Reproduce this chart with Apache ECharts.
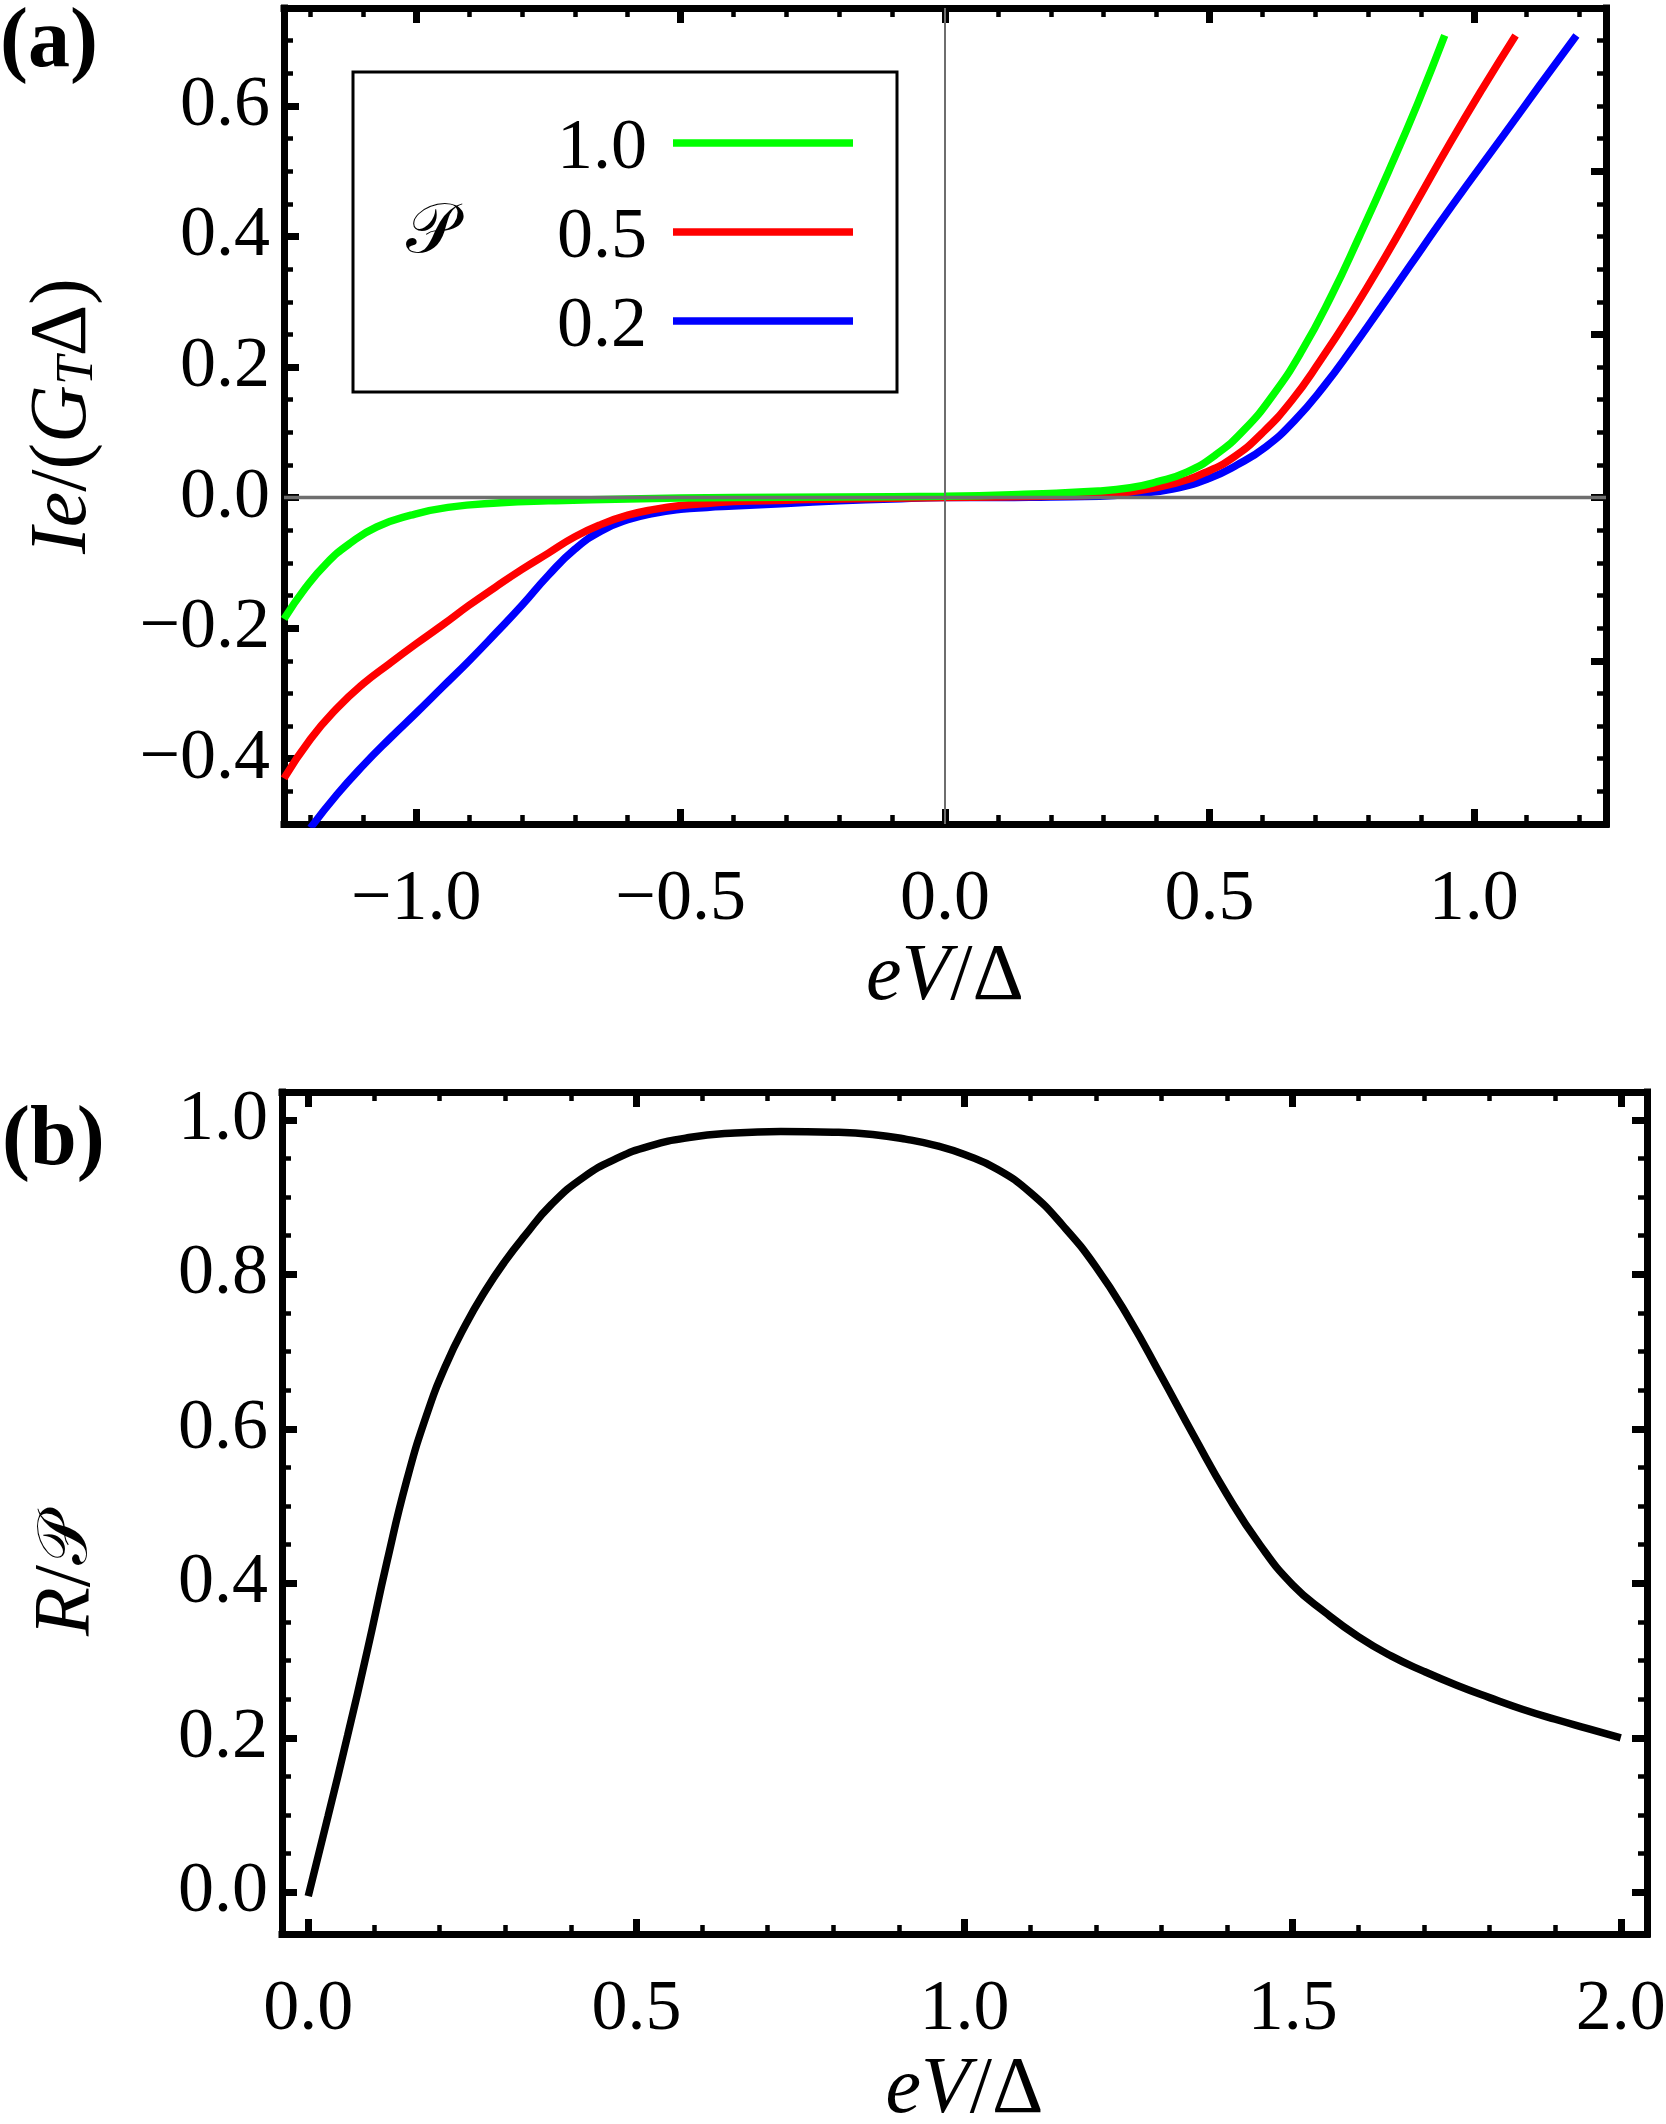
<!DOCTYPE html>
<html>
<head>
<meta charset="utf-8">
<title>I-V curves and R/P</title>
<script src="https://cdn.jsdelivr.net/npm/echarts@6/dist/echarts.min.js"></script>
<style>
  html, body { margin: 0; padding: 0; background: #fff; }
  #chart { width: 1666px; height: 2124px; }
</style>
</head>
<body>
<div id="chart"></div>
<script>
// panel (a): Ie/(G_T Δ) against eV/Δ, one curve per polarization P
const eV_p10 = [-1.25, -1.21, -1.17, -1.125, -1.075, -1.01, -0.94, -0.84, -0.75, -0.6, -0.4, -0.2, 0.0, 0.15, 0.29, 0.35, 0.40, 0.457, 0.511, 0.566, 0.621, 0.675, 0.730, 0.784, 0.839, 0.894, 0.945];
const I_p10 = [-0.186, -0.139, -0.101, -0.070, -0.045, -0.027, -0.015, -0.008, -0.005, -0.002, 0.000, 0.001, 0.002, 0.005, 0.010, 0.015, 0.024, 0.039, 0.065, 0.104, 0.158, 0.225, 0.308, 0.401, 0.500, 0.604, 0.708];

const eV_p05 = [-1.25, -1.20, -1.15, -1.10, -1.05, -1.00, -0.95, -0.90, -0.85, -0.80, -0.75, -0.70, -0.65, -0.60, -0.55, -0.50, -0.45, -0.40, -0.30, -0.20, 0.00, 0.20, 0.293, 0.361, 0.430, 0.491, 0.546, 0.600, 0.655, 0.709, 0.771, 0.832, 0.894, 0.955, 1.016, 1.079];
const I_p05 = [-0.430, -0.370, -0.323, -0.285, -0.254, -0.224, -0.195, -0.165, -0.137, -0.110, -0.085, -0.060, -0.041, -0.027, -0.018, -0.012, -0.009, -0.006, -0.004, -0.002, 0.000, 0.002, 0.004, 0.010, 0.021, 0.038, 0.062, 0.099, 0.148, 0.209, 0.286, 0.368, 0.456, 0.543, 0.626, 0.708];

const eV_p02 = [-1.20, -1.15, -1.10, -1.05, -1.00, -0.95, -0.90, -0.85, -0.80, -0.75, -0.70, -0.65, -0.60, -0.55, -0.50, -0.45, -0.40, -0.30, -0.20, -0.10, 0.00, 0.10, 0.20, 0.293, 0.361, 0.430, 0.498, 0.552, 0.607, 0.661, 0.716, 0.771, 0.825, 0.880, 0.935, 0.989, 1.057, 1.125, 1.194];
const I_p02 = [-0.506, -0.455, -0.410, -0.369, -0.330, -0.290, -0.250, -0.208, -0.165, -0.119, -0.079, -0.051, -0.034, -0.024, -0.018, -0.015, -0.013, -0.009, -0.005, -0.002, 0.000, 0.000, 0.001, 0.002, 0.006, 0.013, 0.029, 0.050, 0.078, 0.118, 0.170, 0.230, 0.292, 0.356, 0.420, 0.481, 0.556, 0.632, 0.708];

// panel (b): R/P against eV/Δ
const eV_b = [0.00, 0.03, 0.06, 0.09, 0.12, 0.15, 0.18, 0.21, 0.24, 0.27, 0.30, 0.33, 0.37, 0.42, 0.47, 0.52, 0.58, 0.65, 0.72, 0.80, 0.86, 0.91, 0.96, 1.00, 1.05, 1.10, 1.15, 1.20, 1.25, 1.30, 1.35, 1.40, 1.45, 1.50, 1.55, 1.60, 1.65, 1.70, 1.75, 1.80, 1.85, 1.90, 1.95, 2.00];
const R_b = [-0.005, 0.098, 0.203, 0.313, 0.428, 0.533, 0.617, 0.683, 0.735, 0.779, 0.817, 0.850, 0.890, 0.926, 0.950, 0.966, 0.977, 0.983, 0.985, 0.984, 0.981, 0.975, 0.966, 0.955, 0.936, 0.906, 0.863, 0.810, 0.744, 0.668, 0.590, 0.515, 0.450, 0.398, 0.362, 0.331, 0.306, 0.286, 0.268, 0.252, 0.237, 0.224, 0.212, 0.200];

const legendNames = ['1.0', '0.5', '0.2'];

// tick positions
const aXMajor = [-1, -0.5, 0, 0.5, 1];
const aYMajor = [-0.4, -0.2, 0, 0.2, 0.4, 0.6];
const aYRightMajor = [-0.25, 0, 0.25, 0.5];
const bXMajor = [0, 0.5, 1, 1.5, 2];
const bYMajor = [0, 0.2, 0.4, 0.6, 0.8, 1.0];

const FONT = '"Liberation Serif", "Times New Roman", serif';
const CAL = '"DejaVu Serif", "DejaVu Sans", serif';
const LINE_W = 7.5;

function minors(from, to, step, majors) {
  const out = [];
  for (let k = Math.round(from / step); k <= Math.round(to / step); k++) {
    const v = +(k * step).toFixed(3);
    if (!majors.some(m => Math.abs(m - v) < 1e-6)) out.push(v);
  }
  return out;
}

const pairs = (xs, ys) => xs.map((x, i) => [x, ys[i]]);
const fmt = v => (v < 0 ? '\u2212' : '') + Math.abs(v).toFixed(1);

const RICH = {
  it: { fontFamily: FONT, fontSize: 80, fontStyle: 'italic', color: '#000' },
  sub: { fontFamily: FONT, fontSize: 52, fontStyle: 'italic', lineHeight: 42, verticalAlign: 'bottom', color: '#000' },
  cal: { fontFamily: CAL, fontSize: 70, color: '#000' }
};

// one side of the frame = a major-tick axis (frame line, labels) + a minor-tick axis
function side(grid, pos, min, max, majors, minorTicks, opts) {
  const isX = pos === 'top' || pos === 'bottom';
  const major = {
    type: 'value', gridIndex: grid, position: pos, min: min, max: max,
    axisLine: { show: true, onZero: false, lineStyle: { color: '#000', width: 7, cap: 'square' } },
    axisTick: { show: true, inside: true, length: 15, customValues: majors, lineStyle: { color: '#000', width: 7 } },
    axisLabel: { show: false },
    splitLine: { show: false }
  };
  if (opts) {
    major.axisLabel = {
      show: true, customValues: majors, formatter: fmt, margin: isX ? 40 : 14,
      color: '#000', fontFamily: FONT, fontSize: 72
    };
    major.name = opts.name;
    major.nameLocation = 'middle';
    major.nameGap = opts.gap;
    major.nameMoveOverlap = false;
    major.nameTextStyle = { fontFamily: FONT, fontSize: 80, color: '#000', rich: RICH, padding: opts.pad || 0 };
  }
  const minor = {
    type: 'value', gridIndex: grid, position: pos, min: min, max: max,
    axisLine: { show: false, onZero: false },
    axisTick: { show: true, inside: true, length: 9, customValues: minorTicks, lineStyle: { color: '#000', width: 4.5 } },
    axisLabel: { show: false },
    splitLine: { show: false }
  };
  return [major, minor];
}

const xAxes = [].concat(
  side(0, 'bottom', -1.25, 1.25, aXMajor, minors(-1.2, 1.2, 0.1, aXMajor), { name: '{it|eV}/\u0394', gap: 114 }),
  side(0, 'top', -1.25, 1.25, aXMajor, minors(-1.2, 1.2, 0.1, aXMajor)),
  side(1, 'bottom', -0.04, 2.04, bXMajor, minors(0.1, 1.9, 0.1, bXMajor), { name: '{it|eV}/\u0394', gap: 117 }),
  side(1, 'top', -0.04, 2.04, bXMajor, minors(0.1, 1.9, 0.1, bXMajor))
);
const yAxes = [].concat(
  side(0, 'left', -0.5, 0.75, aYMajor, minors(-0.45, 0.7, 0.05, aYMajor), { name: '{it|Ie}/({it|G}{sub|T}\u0394)', gap: 180 }),
  side(0, 'right', -0.5, 0.75, aYRightMajor, minors(-0.45, 0.7, 0.05, aYRightMajor)),
  side(1, 'left', -0.054, 1.036, bYMajor, minors(0.05, 0.95, 0.05, bYMajor), { name: '{it|R}/{cal|\uD835\uDCAB}', gap: 174, pad: [0, 125, 0, 0] }),
  side(1, 'right', -0.054, 1.036, bYMajor, minors(0.05, 0.95, 0.05, bYMajor))
);

function curve(name, xs, ys, color, xi, yi) {
  return {
    name: name, type: 'line', xAxisIndex: xi, yAxisIndex: yi,
    data: pairs(xs, ys), symbol: 'none', showSymbol: false,
    smooth: 0.5, clip: true,
    lineStyle: { color: color, width: LINE_W }, itemStyle: { color: color }
  };
}

const series = [
  curve('0.2', eV_p02, I_p02, '#0000ff', 0, 0),
  curve('0.5', eV_p05, I_p05, '#ff0000', 0, 0),
  curve('1.0', eV_p10, I_p10, '#00ff00', 0, 0),
  curve('R', eV_b, R_b, '#000000', 4, 4)
];
// gray coordinate axes through the origin of panel (a)
series[2].markLine = {
  silent: true, symbol: 'none', label: { show: false },
  lineStyle: { color: '#6e6e6e', type: 'solid' },
  data: [
    { xAxis: 0, lineStyle: { width: 2, color: '#6e6e6e', type: 'solid' } },
    { yAxis: 0, lineStyle: { width: 3.3, color: '#6e6e6e', type: 'solid' } }
  ]
};

const chart = echarts.init(document.getElementById('chart'));
chart.setOption({
  animation: false,
  backgroundColor: '#fff',
  grid: [
    { left: 284, right: 60, top: 8, bottom: 1300, containLabel: false, outerBoundsMode: 'none' },
    { left: 282, right: 19, top: 1092, bottom: 190, containLabel: false, outerBoundsMode: 'none' }
  ],
  xAxis: xAxes,
  yAxis: yAxes,
  legend: {
    data: legendNames,
    orient: 'vertical', align: 'right',
    right: 769, top: 72,
    padding: [29, 44, 29, 204],
    itemGap: 5, itemWidth: 180, itemHeight: LINE_W,
    icon: 'rect',
    borderColor: '#000', borderWidth: 3,
    selectedMode: false,
    formatter: '{t|{name}}',
    textStyle: {
      fontFamily: FONT, fontSize: 72, color: '#000', lineHeight: 72,
      rich: { t: { fontFamily: FONT, fontSize: 72, color: '#000', lineHeight: 72, padding: [12, 21, 0, 0] } }
    }
  },
  graphic: [
    { type: 'text', left: 0, top: 2, style: { text: '(a)', font: 'bold 84px "Liberation Serif"', fill: '#000' } },
    { type: 'text', left: 2, top: 1100, style: { text: '(b)', font: 'bold 84px "Liberation Serif"', fill: '#000' } },
    { type: 'text', x: 431, y: 234, style: { text: '\uD835\uDCAB', font: '70px "DejaVu Serif"', fill: '#000', align: 'center', verticalAlign: 'middle' } }
  ],
  series: series
});
</script>
</body>
</html>
